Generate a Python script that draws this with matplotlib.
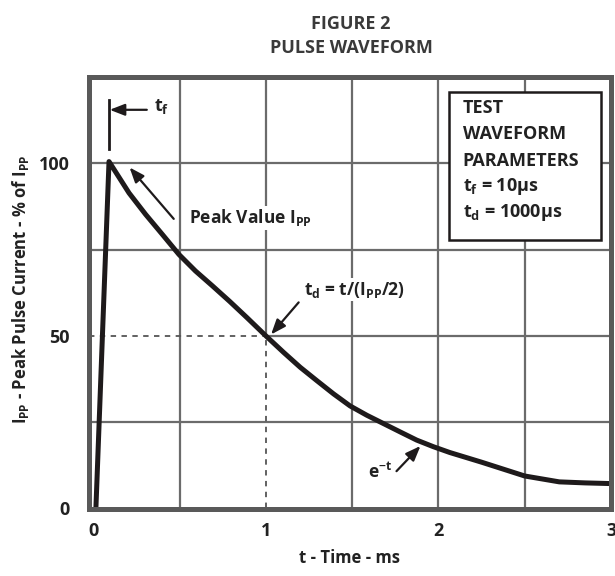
import matplotlib
matplotlib.use("Agg")
import matplotlib.pyplot as plt
from matplotlib.patches import Rectangle

plt.rcParams['font.family'] = ['Open Sans', 'DejaVu Sans']
plt.rcParams['font.weight'] = 'bold'
plt.rcParams['mathtext.fontset'] = 'custom'
plt.rcParams['mathtext.rm'] = 'Open Sans:bold'
plt.rcParams['mathtext.it'] = 'Open Sans:bold'
plt.rcParams['mathtext.bf'] = 'Open Sans:bold'

# pulse waveform (t in ms, current in % of Ipp)
time_ms = [0.015, 0.091, 0.207, 0.303, 0.40, 0.496, 0.592, 0.69, 0.79,
           0.89, 1.0, 1.103, 1.199, 1.296, 1.392, 1.488, 1.585, 1.681,
           1.777, 1.874, 1.970, 2.066, 2.25, 2.5, 2.7, 2.85, 3.0]
current_pct = [0, 100.5, 91.4, 85.2, 79.4, 73.6, 68.8, 64.5, 60.0,
               55.3, 50, 45.2, 40.9, 37.0, 33.2, 29.7, 27.0, 24.6,
               22.2, 19.8, 17.9, 16.2, 13.4, 9.4, 7.7, 7.4, 7.2]

x_ticks = [0, 1, 2, 3]
y_ticks = [0, 50, 100]
x_grid = [0.5, 1.5, 2.0, 2.5]
y_grid = [25, 75, 100]

td_point = (1.0, 50)  # half value point
box_lines = ["TEST", "WAVEFORM", "PARAMETERS",
             "t$_{\\mathrm{f}}$ = 10µs", "t$_{\\mathrm{d}}$ = 1000µs"]

grid_c = '#6b6b6b'
ink = '#1e1a1b'
txt = '#222222'

fig = plt.figure(figsize=(6.15, 5.76), dpi=100)
ax = fig.add_axes([0.1447, 0.1155, 0.8488, 0.7508])
ax.set_xlim(-0.025, 3.0)
ax.set_ylim(-0.3, 125)

# grid, with the x=1 / y=50 lines split where the dashed guides take over
for gx in x_grid:
    ax.plot([gx, gx], [-1, 126], color=grid_c, lw=1.6, zorder=1)
for gy in y_grid:
    ax.plot([-0.1, 3.1], [gy, gy], color=grid_c, lw=1.6, zorder=1)
ax.plot([td_point[0]] * 2, [td_point[1], 126], color=grid_c, lw=1.6, zorder=1)
ax.plot([td_point[0], 3.1], [td_point[1]] * 2, color=grid_c, lw=1.6, zorder=1)
ax.plot([td_point[0]] * 2, [0, td_point[1]], color='#555555', lw=1.3,
        ls=(0, (3, 3)), zorder=1)
ax.plot([-0.025, td_point[0]], [td_point[1]] * 2, color='#555555', lw=1.3,
        ls=(0, (3, 3)), zorder=1)

ax.plot(time_ms, current_pct, color=ink, lw=3.6, zorder=4,
        solid_joinstyle='round', solid_capstyle='butt')

for s in ax.spines.values():
    s.set_color('#595959')
    s.set_linewidth(3.6)
    s.set_zorder(6)

ax.set_xticks(x_ticks)
ax.set_yticks(y_ticks)
ax.tick_params(length=0, labelsize=13, colors=txt)
ax.tick_params(axis='x', pad=9)
ax.tick_params(axis='y', pad=14)
for lab in ax.get_xticklabels() + ax.get_yticklabels():
    lab.set_fontweight('bold')

ax.set_xlabel("t - Time - ms", fontsize=12, fontweight='bold', color=txt)
ax.xaxis.set_label_coords(0.5, -0.092)
ax.set_ylabel("I$_{\\mathrm{PP}}$ - Peak Pulse Current - % of I$_{\\mathrm{PP}}$",
              fontsize=12, fontweight='bold', color=txt)
ax.yaxis.set_label_coords(-0.112, 0.51)

fig.text(0.571, 0.938, "FIGURE 2\nPULSE WAVEFORM", ha='center', va='center',
         fontsize=13, fontweight='bold', color='#3a3a3a', linespacing=1.4)

arrow = dict(arrowstyle='-|>,head_length=0.9,head_width=0.35', color=ink,
             lw=1.6, shrinkA=0, shrinkB=0)

# t_f marker
ax.plot([0.09, 0.09], [104, 118.4], color=ink, lw=2, zorder=5)
ax.annotate("", xy=(0.095, 115.5), xytext=(0.31, 115.5), arrowprops=arrow, zorder=5)
ax.text(0.35, 116.5, "t$_{\\mathrm{f}}$", fontsize=13, fontweight='bold',
        va='center', ha='left', color=txt)

# peak value
ax.annotate("", xy=(0.21, 98.8), xytext=(0.466, 83.9), arrowprops=arrow, zorder=5)
ax.text(0.555, 84.2, "Peak Value I$_{\\mathrm{PP}}$", fontsize=12.5, fontweight='bold',
        va='center', ha='left', color=txt, zorder=3,
        bbox=dict(fc='white', ec='none', pad=1))

# t_d
ax.annotate("", xy=(1.03, 50.4), xytext=(1.19, 59.7), arrowprops=arrow, zorder=5)
ax.text(1.22, 63.4, "t$_{\\mathrm{d}}$ = t/(I$_{\\mathrm{PP}}$/2)", fontsize=12.5,
        fontweight='bold', va='center', ha='left', color=txt, zorder=3,
        bbox=dict(fc='white', ec='none', pad=1))

# e^-t
ax.annotate("", xy=(1.896, 18.1), xytext=(1.757, 10.8), arrowprops=arrow, zorder=5)
ax.text(1.735, 10.5, "e$^{\\mathrm{-t}}$", fontsize=12.5, fontweight='bold',
        va='center', ha='right', color=txt)

# parameter box
ax.add_patch(Rectangle((2.06, 77.9), 0.88, 42.8, fc='white', ec=ink,
                       lw=1.8, zorder=3))
for k, line in enumerate(box_lines):
    ax.text(2.14, 116.0 - k * 7.6, line, fontsize=13, fontweight='bold',
            va='center', ha='left', color=txt, zorder=4)

fig.savefig("out.png", dpi=100)
